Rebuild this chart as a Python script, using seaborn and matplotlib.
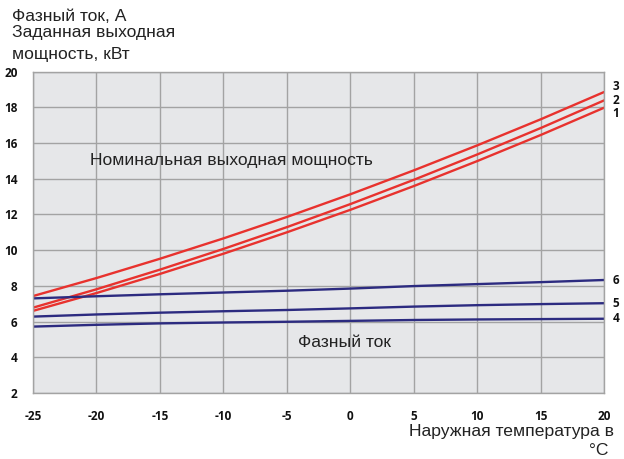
import numpy as np
import pandas as pd
import matplotlib
matplotlib.use("Agg")
import matplotlib.pyplot as plt
import seaborn as sns

# Outdoor temperature, °C
temperature = [-25, -20, -15, -10, -5, 0, 5, 10, 15, 20]

# Rated output power, kW (curves 1-3)
power_1 = [6.60, 7.60, 8.67, 9.80, 11.00, 12.26, 13.59, 14.99, 16.45, 17.98]
power_2 = [6.78, 7.81, 8.91, 10.07, 11.29, 12.58, 13.94, 15.36, 16.84, 18.39]
power_3 = [7.43, 8.44, 9.52, 10.66, 11.86, 13.13, 14.47, 15.87, 17.33, 18.86]

# Phase current, A (curves 4-6)
current_4 = [5.72, 5.82, 5.90, 5.95, 5.99, 6.04, 6.09, 6.12, 6.14, 6.16]
current_5 = [6.28, 6.40, 6.50, 6.58, 6.65, 6.74, 6.84, 6.92, 6.98, 7.03]
current_6 = [7.30, 7.42, 7.53, 7.63, 7.73, 7.85, 7.99, 8.10, 8.21, 8.33]

curve_names = ["1", "2", "3", "4", "5", "6"]
x_ticks = [-25, -20, -15, -10, -5, 0, 5, 10, 15, 20]
y_ticks = [2, 4, 6, 8, 10, 12, 14, 16, 18, 20]

series = [power_1, power_2, power_3, current_4, current_5, current_6]
frames = [pd.DataFrame({"t": temperature, "v": vals, "curve": name})
          for name, vals in zip(curve_names, series)]
df = pd.concat(frames, ignore_index=True)

RED = "#e8322e"
NAVY = "#2c2b80"
GRID = "#a3a3a3"
palette = {"1": RED, "2": RED, "3": RED, "4": NAVY, "5": NAVY, "6": NAVY}

sns.set_style("whitegrid", {
    "axes.facecolor": "#e6e7e9",
    "grid.color": GRID,
    "axes.edgecolor": GRID,
})
plt.rcParams["font.family"] = ["Liberation Sans", "DejaVu Sans"]
plt.rcParams["axes.unicode_minus"] = False

fig = plt.figure(figsize=(6.24, 4.59), dpi=100)
ax = fig.add_axes([33 / 624, 1 - 393 / 459, (604 - 33) / 624, (393 - 71.7) / 459])

sns.lineplot(data=df, x="t", y="v", hue="curve", palette=palette,
             linewidth=1.7, legend=False, ax=ax, estimator=None, sort=True)

ax.set_xlim(-25, 20)
ax.set_ylim(2, 20)
ax.set_xticks(x_ticks)
ax.set_yticks(y_ticks)
ax.grid(True, linewidth=1.0, color=GRID)
for s in ax.spines.values():
    s.set_color(GRID)
    s.set_linewidth(1.0)
ax.set_xlabel("")
ax.set_ylabel("")
ax.tick_params(axis="both", length=0)
ax.tick_params(axis="x", pad=12)
ax.tick_params(axis="y", pad=11)
for lab in ax.get_xticklabels() + ax.get_yticklabels():
    lab.set_fontfamily(["Open Sans", "DejaVu Sans"])
    lab.set_fontweight("bold")
    lab.set_fontsize(8.5)
    lab.set_color("#111111")

# Curve numbers at the right end
offsets = {"1": -4, "2": 0, "3": 4, "4": 0, "5": 0, "6": 0}
for name, vals in zip(curve_names, series):
    ax.annotate(name, xy=(temperature[-1], vals[-1]), xytext=(6, offsets[name]),
                textcoords="offset points", va="center", ha="left",
                fontsize=8.5, fontweight="bold", family=["Open Sans", "DejaVu Sans"],
                color="#111111", annotation_clip=False)

TXT = "#222222"
FS = 12.6
ax.text(-20.5, 15.0, "Номинальная выходная мощность", fontsize=FS, color=TXT,
        va="center", ha="left")
ax.text(-4.1, 4.85, "Фазный ток", fontsize=FS, color=TXT,
        va="center", ha="left")

# Axis titles
fig.text(12 / 624, 1 - 21 / 459, "Фазный ток, А", fontsize=FS, color=TXT,
         ha="left", va="baseline")
fig.text(12 / 624, 1 - 37 / 459, "Заданная выходная", fontsize=FS, color=TXT,
         ha="left", va="baseline")
fig.text(12 / 624, 1 - 59 / 459, "мощность, кВт", fontsize=FS, color=TXT,
         ha="left", va="baseline")
fig.text(614 / 624, 1 - 436 / 459, "Наружная температура в", fontsize=FS,
         color=TXT, ha="right", va="baseline")
fig.text(609 / 624, 1 - 455 / 459, "°C", fontsize=FS, color=TXT,
         ha="right", va="baseline")

fig.savefig("out.png", dpi=100)
